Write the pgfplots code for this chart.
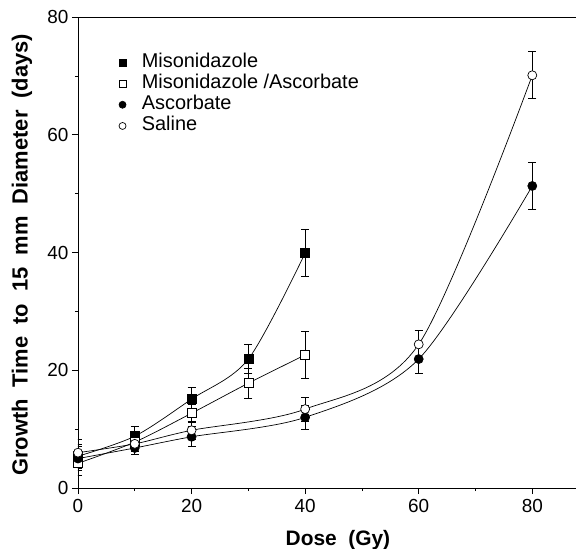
\documentclass[border=0pt]{standalone}
\usepackage{pgfplots}
\pgfplotsset{compat=1.18}
\usepackage{fontspec}
\setmainfont{Liberation Sans}
\begin{document}
\begin{tikzpicture}
\begin{axis}[
  scale only axis, width=498bp, height=471bp,
  xmin=0, xmax=87.7, ymin=0, ymax=80,
  axis x line*=bottom, axis y line*=left,
  axis line style={-, line width=0.8pt},
  xtick={0,20,40,60,80}, minor xtick={10,30,50,70},
  ytick={0,20,40,60,80}, minor ytick={10,30,50,70},
  tick align=outside, major tick length=6bp, minor tick length=3bp,
  tick style={black, line width=0.7pt},
  /pgf/number format/assume math mode=true,
  tick label style={font=\fontsize{19}{19}\selectfont},
  xticklabel style={yshift=-2bp},
  xlabel={Dose\hspace{0.55em}(Gy)},
  ylabel={Growth\hspace{0.55em}Time\hspace{0.55em}to\hspace{0.55em}15\hspace{0.55em}mm\hspace{0.55em}Diameter\hspace{0.55em}(days)},
  xlabel style={font=\fontsize{21}{21}\selectfont\bfseries, at={(axis description cs:0.522,-0.123)}, anchor=base},
  ylabel style={font=\fontsize{22}{22}\selectfont\bfseries, at={(axis description cs:-0.1125,0.495)}, anchor=center},
  legend style={at={(axis description cs:0.082,0.926)}, anchor=north west, draw=none, fill=none,
    inner sep=0pt, row sep=0.6bp,
    nodes={inner sep=0.8bp, text height=14.5bp, text depth=4.5bp},
    font=\fontsize{20}{20}\selectfont, cells={anchor=west},
    /tikz/every odd column/.append style={column sep=15bp}},
  legend image code/.code={\draw[#1, mark size=3.5bp] plot coordinates {(0cm,0cm)};},
  every axis plot/.append style={black, line width=0.7pt},
  error bars/y dir=both, error bars/y explicit,
  error bars/error mark options={rotate=90, mark size=4bp, line width=0.7pt},
  error bars/error bar style={line width=0.9pt},
]
\draw[line width=0.8pt] (rel axis cs:0,1) -- (rel axis cs:1,1);
% Misonidazole
\addplot[smooth, mark=square*, mark size=4.5bp, mark options={fill=black}] coordinates {
 (0,5.4) +- (0,2.0)
 (10,8.8) +- (0,1.6)
 (20,15.1) +- (0,2.0)
 (30,21.9) +- (0,2.5)
 (40,39.9) +- (0,4.0)
};
\addlegendentry{Misonidazole}
% Misonidazole/Ascorbate
\addplot[smooth, mark=square*, mark size=4.5bp, mark options={fill=white}] coordinates {
 (0,4.2) +- (0,2.0)
 (10,7.8) +- (0,1.6)
 (20,12.7) +- (0,1.5)
 (30,17.8) +- (0,2.5)
 (40,22.6) +- (0,4.0)
};
\addlegendentry{Misonidazole /Ascorbate}
% Ascorbate
\addplot[smooth, tension=0.5, mark=*, mark size=4.5bp, mark options={fill=black}] coordinates {
 (0,5.0) +- (0,2.0)
 (10,6.8) +- (0,1.0)
 (20,8.7) +- (0,1.7)
 (40,12.0) +- (0,2.0)
 (60,21.9) +- (0,2.5)
 (80,51.3) +- (0,4.0)
};
\addlegendentry{Ascorbate}
% Saline
\addplot[smooth, tension=0.5, mark=*, mark size=4.5bp, mark options={fill=white}] coordinates {
 (0,6.0) +- (0,2.2)
 (10,7.5) +- (0,1.2)
 (20,9.8) +- (0,1.5)
 (40,13.4) +- (0,2.0)
 (60,24.4) +- (0,2.3)
 (80,70.1) +- (0,4.0)
};
\addlegendentry{Saline}
\end{axis}
\pgfresetboundingbox
\path[use as bounding box] (-78bp,-61bp) rectangle (498bp,488bp);
\end{tikzpicture}
\end{document}
